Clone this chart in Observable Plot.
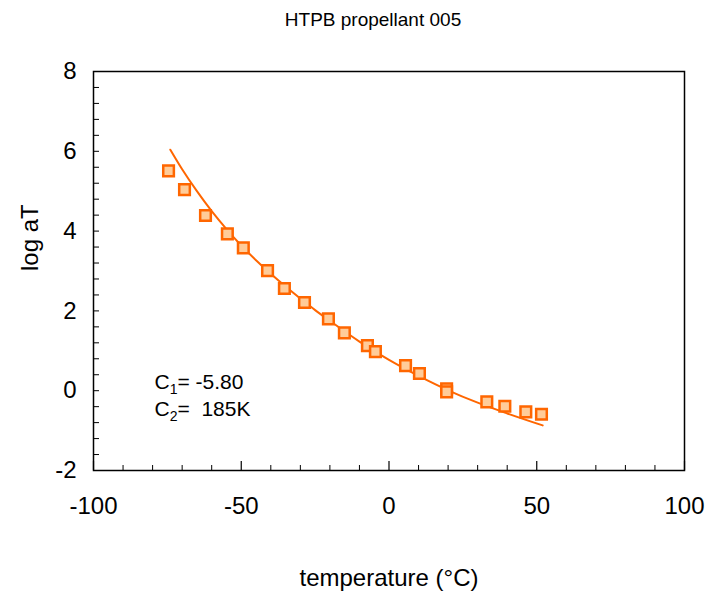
<!DOCTYPE html>
<html><head><meta charset="utf-8">
<script src="https://cdn.jsdelivr.net/npm/d3@7"></script>
<script src="https://cdn.jsdelivr.net/npm/@observablehq/plot@0.6"></script>
<style>body{margin:0;background:#fff;} svg{display:block}</style>
</head><body><div id="chart"></div>
<script>
const title = "HTPB propellant 005";
const xLabel = "temperature (°C)";
const yLabel = "log aT";
// measured points
const tempC = [-74.6, -69.2, -62.1, -54.7, -49.3, -41.1, -35.4, -28.6, -20.5, -15.1, -7.3, -4.6, 5.6, 10.3, 19.5, 19.5, 33.1, 39.2, 46.3, 51.6];
const logAT = [5.51, 5.04, 4.39, 3.93, 3.58, 3.01, 2.56, 2.21, 1.80, 1.45, 1.13, 0.98, 0.63, 0.43, 0.05, -0.03, -0.28, -0.39, -0.53, -0.59];
// fitted WLF curve
const fitTempC = [-74, -70, -65, -60, -55, -50, -45, -40, -35, -30, -25, -20, -10, 0, 10, 20, 30, 40, 52];
const fitLogAT = [6.04, 5.55, 5.00, 4.50, 4.05, 3.64, 3.27, 2.93, 2.61, 2.31, 2.02, 1.75, 1.23, 0.77, 0.37, 0.01, -0.30, -0.57, -0.87];
// ticks
const xTicks = [-100, -50, 0, 50, 100];
const xMinorTicks = [-90, -80, -70, -60, -40, -30, -20, -10, 10, 20, 30, 40, 60, 70, 80, 90];
const yTicks = [-2, 0, 2, 4, 6, 8];
const yMinorTicks = [-1.6, -1.2, -0.8, -0.4, 0, 0.4, 0.8, 1.2, 1.6, 2, 2.4, 2.8, 3.2, 3.6, 4, 4.4, 4.8, 5.2, 5.6, 6, 6.4, 6.8, 7.2, 7.6];
// annotation
const annotText = ["C1= -5.80", "C2=  185K"];

const points = tempC.map((t, i) => ({t, v: logAT[i]}));
const fit = fitTempC.map((t, i) => ({t, v: fitLogAT[i]}));

const W = 709, H = 593, mL = 93, mR = 25, mT = 71, mB = 123;
const fw = W - mL - mR, fh = H - mT - mB;
const font = "'Liberation Sans', Arial, sans-serif";
const fmt = d => String(d);

const plot = Plot.plot({
  width: W, height: H,
  marginLeft: mL, marginRight: mR, marginTop: mT, marginBottom: mB,
  style: {fontFamily: font, fontSize: "24px", color: "#000", background: "#fff"},
  x: {domain: [-100, 100]},
  y: {domain: [-2, 8]},
  marks: [
    Plot.ruleX(xMinorTicks, {x: d => d, insetTop: fh - 5, stroke: "#000", strokeWidth: 1}),
    Plot.ruleX(xTicks, {x: d => d, insetTop: fh - 9, stroke: "#000", strokeWidth: 1.2}),
    Plot.ruleY(yMinorTicks, {y: d => d, insetRight: fw - 6, stroke: "#000", strokeWidth: 1}),
    Plot.frame({stroke: "#000", strokeWidth: 1.5}),
    Plot.axisX(xTicks, {tickSize: 0, tickPadding: 26, fontSize: 24, tickFormat: fmt, label: null}),
    Plot.axisY(yTicks, {tickSize: 0, tickPadding: 17, fontSize: 24, tickFormat: fmt, label: null}),
    Plot.line(fit, {x: "t", y: "v", stroke: "#FF6600", strokeWidth: 2, curve: "monotone-x"}),
    Plot.dot(points, {x: "t", y: "v", symbol: "square", r: 6, fill: "#FFCC99", stroke: "#FF6600", strokeWidth: 2.5}),
    Plot.text([annotText[0]], {frameAnchor: "bottom-left", textAnchor: "start", lineAnchor: "bottom", dx: 61, dy: -82, fontSize: 21}),
    Plot.text([annotText[1]], {frameAnchor: "bottom-left", textAnchor: "start", lineAnchor: "bottom", dx: 61, dy: -55, fontSize: 21}),
    Plot.text([title], {frameAnchor: "top", lineAnchor: "bottom", dx: -16, dy: -46, fontSize: 19}),
    Plot.text([xLabel], {frameAnchor: "bottom", lineAnchor: "bottom", dy: 115, fontSize: 24}),
    Plot.text([yLabel], {frameAnchor: "left", rotate: -90, dx: -63, dy: 0, fontSize: 24})
  ]
});

// subscripts for C1 / C2
d3.select(plot).selectAll("text").filter(function() {
  return annotText.includes(this.textContent);
}).each(function() {
  const s = this.textContent;
  const el = d3.select(this).attr("style", "white-space:pre").text(null);
  el.append("tspan").text(s[0]);
  el.append("tspan").attr("font-size", "14px").attr("dy", "5").text(s[1]);
  el.append("tspan").attr("dy", "-5").text(s.slice(2));
});

document.getElementById("chart").appendChild(plot);
</script>
</body></html>
